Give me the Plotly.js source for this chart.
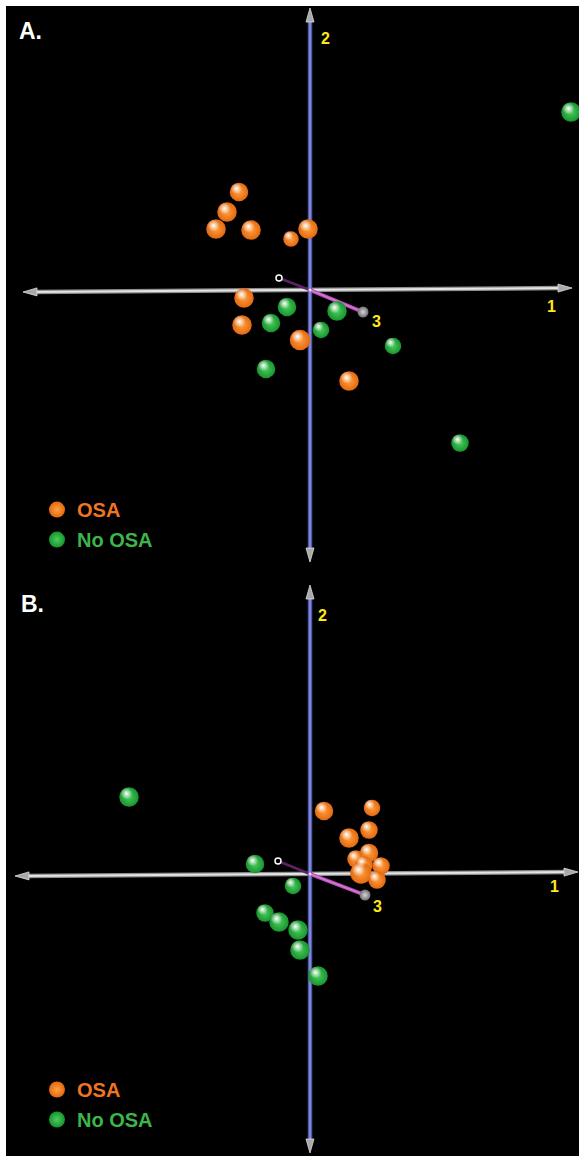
<!DOCTYPE html>
<html><head><meta charset="utf-8">
<script src="https://cdn.plot.ly/plotly-3.0.1.min.js"></script>
<style>html,body{margin:0;padding:0;background:#fff;}#chart{width:579px;height:1156px;}</style>
</head><body><div id="chart"></div>
<script>
// ---------- DATA (principal component scores) ----------
const seriesNames = ["OSA", "No OSA"];
const axisNames = ["1", "2", "3"];
const panelNames = ["A.", "B."];

// Panel A
const A_osa_pc1 = [-7.1, -8.3, -9.4, -5.9, -1.9, -0.2, -6.6, -6.8, -1.0, 3.9];
const A_osa_pc2 = [9.8, 7.8, 6.1, 6.0, 5.1, 6.1, -0.8, -3.5, -5.0, -9.1];
const A_osa_pc3 = [0, 1, 1, 1, -3, 1, 1, 1, 2, 1];
const A_no_pc1 = [26.1, -2.3, -3.9, 2.7, 1.1, 8.3, -4.4, 15.0];
const A_no_pc2 = [17.8, -1.7, -3.3, -2.1, -4.0, -5.6, -7.9, -15.3];
const A_no_pc3 = [1, 0, 0, 1, -2, -2, 0, -1];

// Panel B
const B_osa_pc1 = [6.2, 1.4, 5.9, 3.9, 4.6, 5.9, 7.1, 5.4, 6.7, 5.1];
const B_osa_pc2 = [6.6, 6.3, 4.4, 3.6, 1.5, 2.1, 0.8, 0.9, -0.6, 0.1];
const B_osa_pc3 = [-2, 0, -1, 1, -1, 0, -1, -1, -1, 3];
const B_no_pc1 = [-18.1, -5.5, -1.7, -4.5, -3.1, -1.2, -1.0, 0.8];
const B_no_pc2 = [7.7, 1.0, -1.2, -3.9, -4.8, -5.6, -7.6, -10.2];
const B_no_pc3 = [1, 0, -2, -1, 1, 1, 1, 1];

// ---------- GEOMETRY / STYLE ----------
const XR = [-30.4, 26.9];
const YA = [-29.1, 28.4];
const YB = [-28.2, 29.3];
const HEAD_L = 1.4, HEAD_W = 0.4;
const HL_DX = 0.25, HL_DY = 0.35;

const panels = {
  A: { xa: 'x', ya: 'y', hx: 'x3', hy: 'y3', legend: 'legend',
       h: [[-28.7, -0.2], [26.2, 0.2]], v: [[0, 28.2], [0, -27.2]], d: [[-3.1, 1.2], [5.3, -2.2]],
       lab: [[24.1, -1.6], [1.5, 25.2], [6.6, -3.1]], tag: [-29.3, 25.9],
       osa: [A_osa_pc1, A_osa_pc2, A_osa_pc3], no: [A_no_pc1, A_no_pc2, A_no_pc3] },
  B: { xa: 'x2', ya: 'y2', hx: 'x4', hy: 'y4', legend: 'legend2',
       h: [[-29.5, -0.2], [26.8, 0.2]], v: [[0, 28.9], [0, -27.9]], d: [[-3.2, 1.3], [5.5, -2.1]],
       lab: [[24.4, -1.2], [1.2, 25.9], [6.7, -3.2]], tag: [-29.15, 27.05],
       osa: [B_osa_pc1, B_osa_pc2, B_osa_pc3], no: [B_no_pc1, B_no_pc2, B_no_pc3] }
};

const STY = {
  osa: { edge: '#e4680f', center: '#ffa040', text: '#ee7623' },
  no:  { edge: '#17952e', center: '#4ccb5e', text: '#3db54a' }
};

function unit(p, q) { const dx = q[0]-p[0], dy = q[1]-p[1], n = Math.hypot(dx, dy); return [dx/n, dy/n]; }
function tri(tail, tip) {
  const u = unit(tail, tip);
  const b = [tip[0]-u[0]*HEAD_L, tip[1]-u[1]*HEAD_L];
  const n = [-u[1], u[0]];
  return [[b[0]+n[0]*HEAD_W, b[1]+n[1]*HEAD_W], tip, [b[0]-n[0]*HEAD_W, b[1]-n[1]*HEAD_W]];
}
function shaft(p, q) {
  const u = unit(p, q), k = HEAD_L*0.6;
  return [[p[0]+u[0]*k, p[1]+u[1]*k], [q[0]-u[0]*k, q[1]-u[1]*k]];
}
function lineTrace(pts, xa, ya, color, width) {
  return { type: 'scatter', mode: 'lines', x: pts.map(p => p[0]), y: pts.map(p => p[1]),
    xaxis: xa, yaxis: ya, line: { color: color, width: width }, showlegend: false, hoverinfo: 'skip' };
}

const traces = [];
const annotations = [];

['A', 'B'].forEach((key, pi) => {
  const P = panels[key];
  const hs = shaft(P.h[0], P.h[1]);
  const vs = shaft(P.v[0], P.v[1]);
  const origin = [0, 0];
  // axis 1 (horizontal, grey tube)
  traces.push(lineTrace(hs, P.xa, P.ya, '#8e8e8e', 4.5));
  traces.push(lineTrace(hs, P.xa, P.ya, '#e4e4e4', 2));
  // axis 3 back part
  traces.push(lineTrace([P.d[0], origin], P.xa, P.ya, '#5c2266', 2.5));
  // axis 2 (vertical, blue tube)
  traces.push(lineTrace(vs, P.xa, P.ya, '#5258ac', 4.5));
  traces.push(lineTrace(vs, P.xa, P.ya, '#7f86d2', 2));
  // axis 3 front part
  traces.push(lineTrace([origin, P.d[1]], P.xa, P.ya, '#b44ab6', 4));
  traces.push(lineTrace([origin, P.d[1]], P.xa, P.ya, '#d27ad2', 1.5));
  // arrow heads
  const heads = [tri(P.h[1], P.h[0]), tri(P.h[0], P.h[1]), tri(P.v[1], P.v[0]), tri(P.v[0], P.v[1])];
  const hx = [], hy = [];
  heads.forEach(t => { t.forEach(p => { hx.push(p[0]); hy.push(p[1]); }); hx.push(t[0][0]); hy.push(t[0][1]); hx.push(null); hy.push(null); });
  traces.push({ type: 'scatter', mode: 'lines', x: hx, y: hy, xaxis: P.xa, yaxis: P.ya, fill: 'toself',
    fillcolor: '#a9a9a9', line: { color: '#dadada', width: 0.8 }, showlegend: false, hoverinfo: 'skip' });
  // axis 3 end markers + origin dot
  traces.push({ type: 'scatter', mode: 'markers', x: [P.d[0][0]], y: [P.d[0][1]], xaxis: P.xa, yaxis: P.ya,
    marker: { symbol: 'circle', size: 6, color: '#000', opacity: 1, line: { color: '#ffffff', width: 1.5 } }, showlegend: false, hoverinfo: 'skip' });
  traces.push({ type: 'scatter', mode: 'markers', x: [P.d[1][0]], y: [P.d[1][1]], xaxis: P.xa, yaxis: P.ya,
    marker: { symbol: 'circle', size: 11, color: '#6e6e6e', opacity: 1, gradient: { type: 'radial', color: '#d6d6d6' }, line: { width: 0 } },
    showlegend: false, hoverinfo: 'skip' });
  traces.push({ type: 'scatter', mode: 'markers', x: [0], y: [0], xaxis: P.xa, yaxis: P.ya,
    marker: { size: 3, color: '#f4d8f4', opacity: 1 }, showlegend: false, hoverinfo: 'skip' });

  // data balls
  [['osa', 0], ['no', 1]].forEach(([g, gi]) => {
    const d = P[g], s = STY[g];
    traces.push({ type: 'scatter', mode: 'markers', name: '<span style="color:' + s.text + '">' + seriesNames[gi] + '</span>',
      x: d[0], y: d[1], xaxis: P.xa, yaxis: P.ya, legend: P.legend, legendgroup: key + g, showlegend: true,
      marker: { size: d[2].map(v => 18.5 + v), opacity: 1, color: s.edge, gradient: { type: 'radial', color: s.center }, line: { width: 0 } },
      hoverinfo: 'skip' });
  });
  // specular highlights (drawn on offset overlay axes)
  [['osa', 0], ['no', 1]].forEach(([g, gi]) => {
    const d = P[g];
    traces.push({ type: 'scatter', mode: 'markers', x: d[0], y: d[1], xaxis: P.hx, yaxis: P.hy, showlegend: false,
      marker: { size: d[2].map(v => (18.5 + v) * 0.62), opacity: 1, color: 'rgba(255,255,255,0)',
        gradient: { type: 'radial', color: 'rgba(255,255,255,1)' }, line: { width: 0 } }, hoverinfo: 'skip' });
  });

  // axis number labels
  axisNames.forEach((n, i) => {
    annotations.push({ xref: P.xa, yref: P.ya, x: P.lab[i][0], y: P.lab[i][1], text: '<b>' + n + '</b>', showarrow: false,
      xanchor: 'center', yanchor: 'middle', font: { family: 'Liberation Sans, Arial, sans-serif', size: 16, color: '#ffe81a' } });
  });
  annotations.push({ xref: P.xa, yref: P.ya, x: P.tag[0], y: P.tag[1], text: '<b>' + panelNames[pi] + '</b>', showarrow: false,
    xanchor: 'left', yanchor: 'middle', font: { family: 'Liberation Sans, Arial, sans-serif', size: 23, color: '#ffffff' } });
});

const ax = (extra) => Object.assign({ visible: false, showgrid: false, zeroline: false, fixedrange: true }, extra);
const legendBase = { xref: 'paper', yref: 'paper', xanchor: 'left', yanchor: 'top', bgcolor: 'rgba(0,0,0,0)',
  borderwidth: 0, tracegroupgap: 1, itemclick: false,
  font: { family: 'Liberation Sans, Arial, sans-serif', size: 20, weight: 'bold', color: '#ffffff' } };

const layout = {
  width: 579, height: 1156,
  margin: { l: 6, r: 0, t: 6, b: 0, pad: 0 },
  paper_bgcolor: '#ffffff', plot_bgcolor: 'rgba(0,0,0,0)',
  showlegend: true,
  xaxis: ax({ domain: [0, 1], range: XR, anchor: 'y' }),
  yaxis: ax({ domain: [0.5, 1], range: YA, anchor: 'x' }),
  xaxis2: ax({ domain: [0, 1], range: XR, anchor: 'y2' }),
  yaxis2: ax({ domain: [0, 0.5], range: YB, anchor: 'x2' }),
  xaxis3: ax({ overlaying: 'x', range: [XR[0] + HL_DX, XR[1] + HL_DX], anchor: 'y3' }),
  yaxis3: ax({ overlaying: 'y', range: [YA[0] - HL_DY, YA[1] - HL_DY], anchor: 'x3' }),
  xaxis4: ax({ overlaying: 'x2', range: [XR[0] + HL_DX, XR[1] + HL_DX], anchor: 'y4' }),
  yaxis4: ax({ overlaying: 'y2', range: [YB[0] - HL_DY, YB[1] - HL_DY], anchor: 'x4' }),
  shapes: [{ type: 'rect', xref: 'paper', yref: 'paper', x0: 0, x1: 1, y0: 0, y1: 1, fillcolor: '#000000', line: { width: 0 }, layer: 'below' }],
  annotations: annotations,
  legend: Object.assign({}, legendBase, { x: 0.0541, y: 0.5791 }),
  legend2: Object.assign({}, legendBase, { x: 0.0541, y: 0.0748 })
};

Plotly.newPlot('chart', traces, layout, { staticPlot: true, displayModeBar: false });
</script></body></html>
